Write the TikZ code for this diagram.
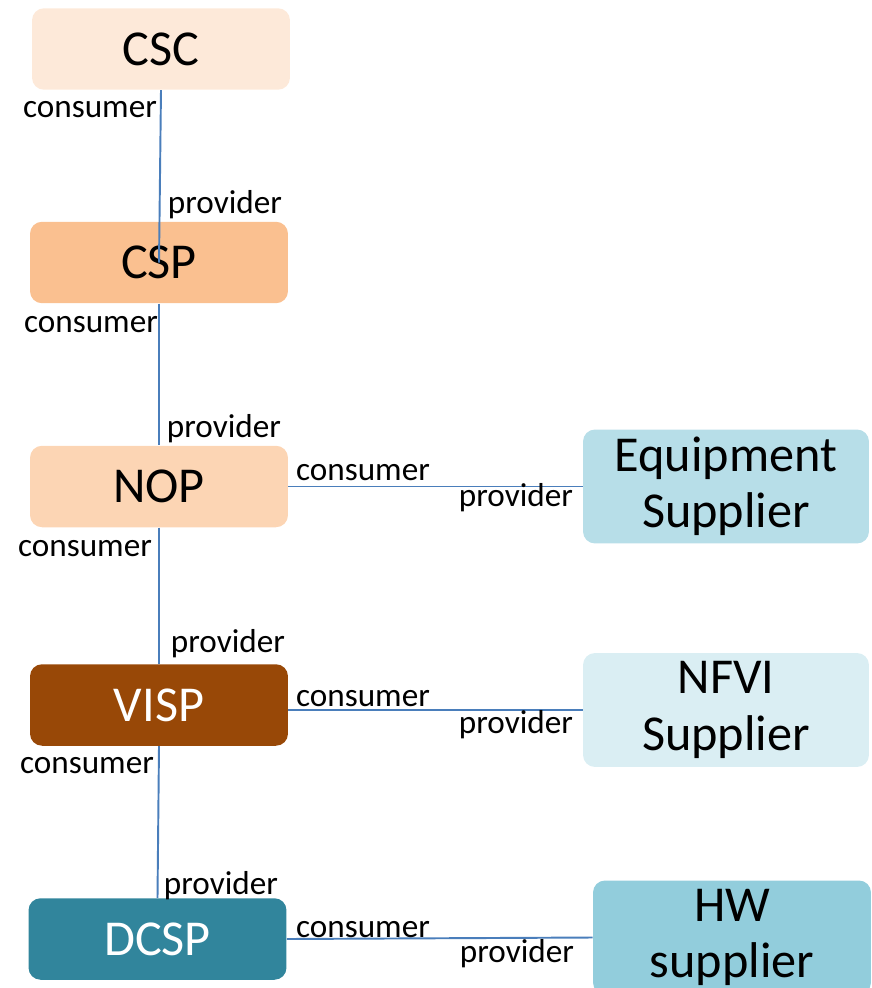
\documentclass[tikz,border=0pt]{standalone}
\usepackage{fontspec}
\setmainfont{Carlito}
\usepackage{tikz}
\usetikzlibrary{positioning,calc}
\definecolor{cscpeach}{HTML}{FDE9D9}
\definecolor{csporange}{HTML}{FAC090}
\definecolor{noppeach}{HTML}{FCD5B4}
\definecolor{vispbrown}{HTML}{984807}
\definecolor{dcspteal}{HTML}{31859C}
\definecolor{equipblue}{HTML}{B7DEE8}
\definecolor{nfviblue}{HTML}{DAEEF3}
\definecolor{hwblue}{HTML}{92CDDC}
\definecolor{linkblue}{HTML}{4A7EBB}
\tikzset{
  % rollerna
  role/.style={rectangle,rounded corners=0.24cm,draw=none,inner sep=0pt,
               minimum width=5.16cm,minimum height=1.63cm,
               font=\fontsize{28.6}{34}\selectfont},
  supp/.style={role,minimum width=5.72cm,minimum height=2.28cm,align=center,
               font=\fontsize{28.6}{32}\selectfont},
  dark/.style={text=white},
  % kopplingar
  link/.style={draw=linkblue,line width=1.1pt},
  lbl/.style={anchor=base,inner sep=0pt,font=\fontsize{18.9}{22}\selectfont},
}
\begin{document}
\begin{tikzpicture}[x=0.02cm,y=-0.02cm]
  \useasboundingbox (0,0) rectangle (872,988);
  \node[role,fill=cscpeach] (csc) at (161,49) {CSC};
  \node[role,fill=csporange] (csp) at (159,262.5) {CSP};
  \node[role,fill=noppeach] (nop) at (159,486.5) {NOP};
  \node[role,fill=vispbrown,dark] (visp) at (159,705) {VISP};
  \node[role,fill=dcspteal,dark] (dcsp) at (157.5,939) {DCSP};
  \node[supp,fill=equipblue] (equip) at (726,486.5) {Equipment\\Supplier};
  \node[supp,fill=nfviblue] (nfvi) at (726,710) {NFVI\\Supplier};
  \node[supp,fill=hwblue,minimum width=5.56cm] (hw) at (732,937.5) {HW\\supplier};
  \draw[link] (csc.south) -- (csp.center);
  \draw[link] (csp.south) -- (nop.north);
  \draw[link] (nop.south) -- (visp.north);
  \draw[link] (visp.south) -- (dcsp.north);
  \draw[link] (nop.east) -- (equip.west);
  \draw[link] (visp.east |- nfvi.west) -- (nfvi.west);
  \draw[link] (dcsp.east) -- (hw.west);
  % roller på kopplingarna
  \node[lbl] (c1) at (90,117) {consumer};
  \node[lbl] (p1) at (225,213) {provider};
  \node[lbl] (c2) at (91,332) {consumer};
  \node[lbl] (p2) at (224,437) {provider};
  \node[lbl] (c3) at (363,480) {consumer};
  \node[lbl] (p3) at (516,506) {provider};
  \node[lbl] (c4) at (85,556) {consumer};
  \node[lbl] (p4) at (228,652) {provider};
  \node[lbl] (c5) at (363,706) {consumer};
  \node[lbl] (p5) at (516,733) {provider};
  \node[lbl] (c6) at (87,773) {consumer};
  \node[lbl] (p6) at (221,894) {provider};
  \node[lbl] (c7) at (363,937) {consumer};
  \node[lbl] (p7) at (517,962) {provider};
\end{tikzpicture}
\end{document}
